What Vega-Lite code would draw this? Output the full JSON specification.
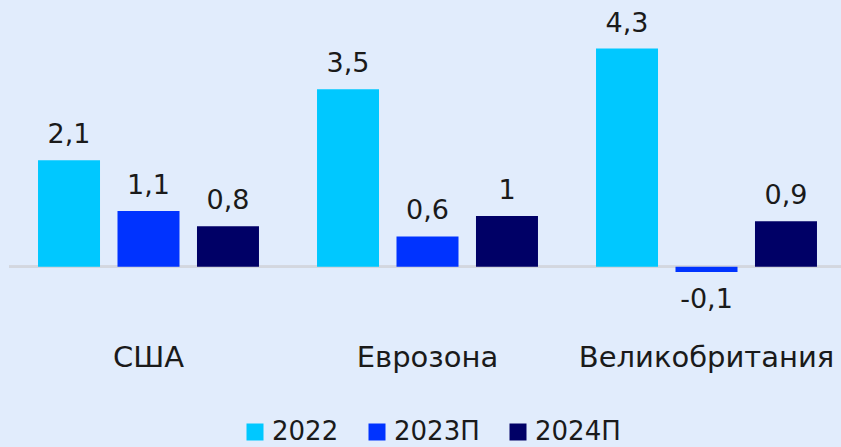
{
  "$schema": "https://vega.github.io/schema/vega-lite/v6.json",
  "autosize": {"type": "none"},
  "width": 837,
  "height": 330,
  "padding": {"left": 9, "top": 13, "right": 0, "bottom": 104},
  "background": "#E1ECFC",
  "config": {
    "view": {"stroke": null},
    "font": "DejaVu Sans",
    "locale": {"number": {"decimal": ",", "thousands": " ", "grouping": [3], "currency": ["", ""], "minus": "-"}}
  },
  "data": {
    "values": [
      {"country": "США", "year": "2022", "v": 2.1},
      {"country": "США", "year": "2023П", "v": 1.1},
      {"country": "США", "year": "2024П", "v": 0.8},
      {"country": "Еврозона", "year": "2022", "v": 3.5},
      {"country": "Еврозона", "year": "2023П", "v": 0.6},
      {"country": "Еврозона", "year": "2024П", "v": 1.0},
      {"country": "Великобритания", "year": "2022", "v": 4.3},
      {"country": "Великобритания", "year": "2023П", "v": -0.1},
      {"country": "Великобритания", "year": "2024П", "v": 0.9}
    ]
  },
  "encoding": {
    "x": {
      "field": "country", "type": "nominal", "sort": null,
      "scale": {"paddingInner": 0.208, "paddingOuter": 0.104},
      "axis": {"title": null, "domain": false, "ticks": false, "labelAngle": 0, "labelFontSize": 29, "labelColor": "#1a1a1a", "labelPadding": 0, "labelLimit": 0, "labelFont": "DejaVu Sans"}
    },
    "xOffset": {"field": "year", "type": "nominal", "scale": {"paddingInner": 0.22, "paddingOuter": 0}},
    "y": {"field": "v", "type": "quantitative", "scale": {"domain": [-1.5, 5], "nice": false, "zero": false}, "axis": null}
  },
  "layer": [
    {
      "mark": {"type": "rule", "color": "#D3D7DF", "strokeWidth": 2},
      "encoding": {"y": {"datum": 0}, "x": null, "xOffset": null}
    },
    {
      "mark": {"type": "bar"},
      "encoding": {
        "y2": {"datum": 0},
        "color": {
          "field": "year", "type": "nominal",
          "scale": {"domain": ["2022", "2023П", "2024П"], "range": ["#00C8FF", "#0033FF", "#000066"]},
          "legend": {
            "title": null, "orient": "none", "direction": "horizontal", "legendX": 233, "legendY": 406,
            "symbolType": "square", "symbolSize": 289, "symbolStrokeWidth": 0, "labelFontSize": 26, "labelColor": "#1a1a1a",
            "columnPadding": 25, "labelOffset": 4, "labelLimit": 0
          }
        }
      }
    },
    {
      "transform": [{"filter": "datum.v >= 0"}],
      "mark": {"type": "text", "baseline": "bottom", "dy": -11, "fontSize": 27, "color": "#1a1a1a"},
      "encoding": {"text": {"field": "v", "type": "quantitative", "format": ".2~g"}}
    },
    {
      "transform": [{"filter": "datum.v < 0"}],
      "mark": {"type": "text", "baseline": "top", "dy": 15, "fontSize": 27, "color": "#1a1a1a"},
      "encoding": {"text": {"field": "v", "type": "quantitative", "format": ".2~g"}}
    }
  ]
}
